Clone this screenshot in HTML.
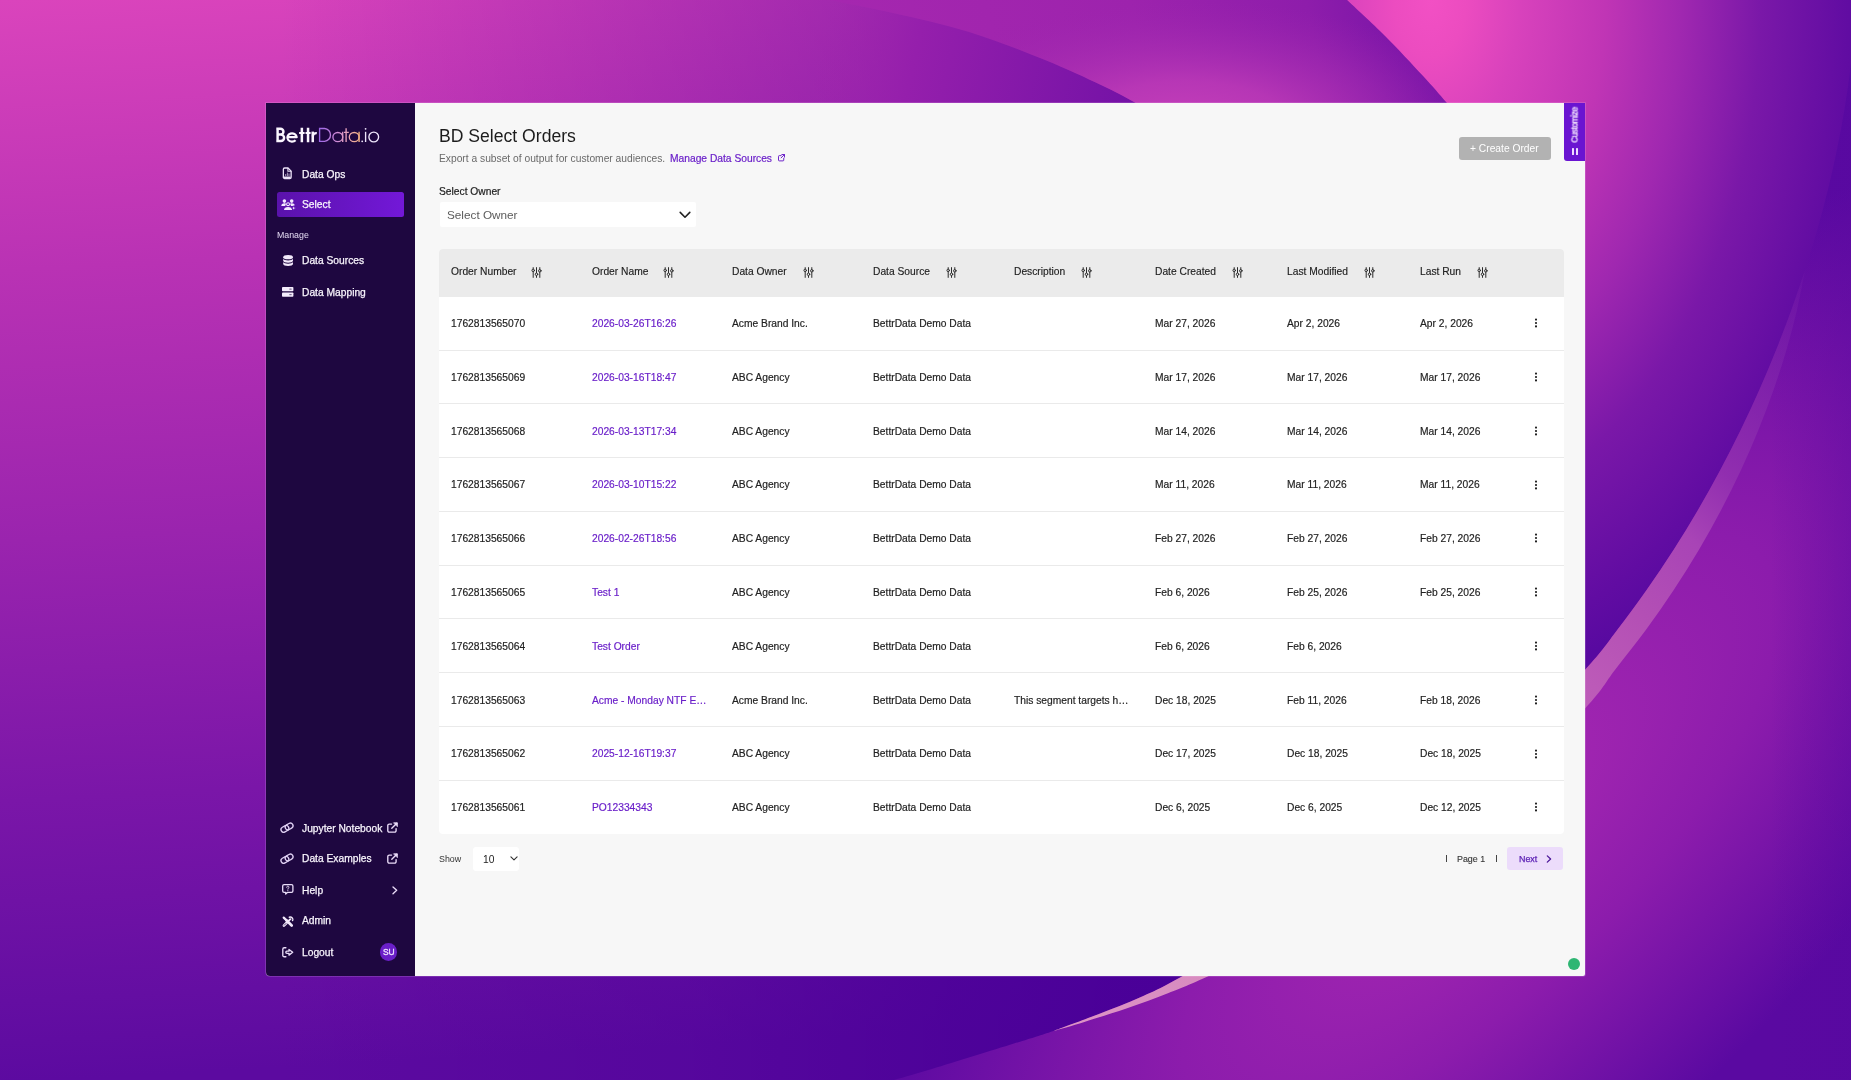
<!DOCTYPE html>
<html><head><meta charset="utf-8"><title>BD Select Orders</title>
<style>
html,body{margin:0;padding:0}
body{width:1851px;height:1080px;position:relative;overflow:hidden;background:#7a14a8;font-family:"Liberation Sans",sans-serif}
.t{position:absolute;white-space:nowrap;font-family:"Liberation Sans",sans-serif;will-change:transform}
.a{position:absolute}
.nav{-webkit-text-stroke:0.25px #fff}
svg{position:absolute;overflow:visible}
</style></head><body>

<svg width="1851" height="1080" viewBox="0 0 1851 1080" style="left:0;top:0">
<defs>
<linearGradient id="g0" gradientUnits="userSpaceOnUse" x1="0" y1="0" x2="60" y2="1080">
<stop offset="0" stop-color="#da44bc"/><stop offset="0.25" stop-color="#b932b4"/><stop offset="0.5" stop-color="#9a24ae"/><stop offset="0.74" stop-color="#7a16a8"/><stop offset="0.925" stop-color="#640ea2"/><stop offset="1" stop-color="#5c0aa0"/>
</linearGradient>
<linearGradient id="gH" gradientUnits="userSpaceOnUse" x1="280" y1="0" x2="1200" y2="0">
<stop offset="0" stop-color="#4a0098" stop-opacity="0"/><stop offset="0.67" stop-color="#4a0098" stop-opacity="0.4"/><stop offset="0.95" stop-color="#4a0098" stop-opacity="0.8"/><stop offset="1" stop-color="#4a0098" stop-opacity="0.85"/>
</linearGradient>
<linearGradient id="gH2" gradientUnits="userSpaceOnUse" x1="280" y1="0" x2="1200" y2="0">
<stop offset="0" stop-color="#4a0098" stop-opacity="0"/><stop offset="0.45" stop-color="#4a0098" stop-opacity="0.35"/><stop offset="0.73" stop-color="#4a0098" stop-opacity="0.8"/><stop offset="0.9" stop-color="#4a0098" stop-opacity="0.97"/><stop offset="1" stop-color="#4a0098" stop-opacity="1"/>
</linearGradient>
<linearGradient id="gW" gradientUnits="userSpaceOnUse" x1="830" y1="0" x2="1140" y2="70">
<stop offset="0" stop-color="#a226ae" stop-opacity="0"/><stop offset="0.3" stop-color="#951fac" stop-opacity="1"/><stop offset="1" stop-color="#7412a6"/>
</linearGradient>
<linearGradient id="gB" gradientUnits="userSpaceOnUse" x1="850" y1="60" x2="1410" y2="-60">
<stop offset="0" stop-color="#a527af"/><stop offset="0.5" stop-color="#9d23ad"/><stop offset="0.8" stop-color="#8e1dab"/><stop offset="1" stop-color="#7613a7"/>
</linearGradient>
<radialGradient id="gB2" gradientUnits="userSpaceOnUse" cx="0" cy="0" r="1" gradientTransform="translate(1185 125) scale(300 125)">
<stop offset="0" stop-color="#c640ba" stop-opacity="1"/><stop offset="0.35" stop-color="#bc3ab7" stop-opacity="0.85"/><stop offset="0.7" stop-color="#a82eb2" stop-opacity="0.45"/><stop offset="1" stop-color="#9a24ae" stop-opacity="0"/>
</radialGradient>
<radialGradient id="gC" gradientUnits="userSpaceOnUse" cx="0" cy="0" r="1" gradientTransform="translate(1430 0) scale(450 700)">
<stop offset="0" stop-color="#f250c4"/><stop offset="0.08" stop-color="#ec4cc0"/><stop offset="0.2" stop-color="#d842bc"/><stop offset="0.39" stop-color="#c035b5"/><stop offset="0.557" stop-color="#a028b0"/><stop offset="0.734" stop-color="#7a18a8"/><stop offset="0.93" stop-color="#610ca2"/><stop offset="1" stop-color="#5809a0"/>
</radialGradient>
<radialGradient id="gD" gradientUnits="userSpaceOnUse" cx="0" cy="0" r="1" gradientTransform="translate(1480 830) rotate(-45) scale(870 340)">
<stop offset="0" stop-color="#a929b2"/><stop offset="0.45" stop-color="#8c1cac"/><stop offset="1" stop-color="#5a09a1"/>
</radialGradient>
<linearGradient id="gR" gradientUnits="userSpaceOnUse" x1="1770" y1="0" x2="1851" y2="0">
<stop offset="0" stop-color="#5608a0" stop-opacity="0"/><stop offset="1" stop-color="#5608a0" stop-opacity="0.35"/>
</linearGradient>
<linearGradient id="gS" gradientUnits="userSpaceOnUse" x1="1851" y1="150" x2="1100" y2="1020">
<stop offset="0.08" stop-color="#7a22aa" stop-opacity="0"/><stop offset="0.155" stop-color="#7c24aa" stop-opacity="0.5"/><stop offset="0.284" stop-color="#9230b0" stop-opacity="0.9"/><stop offset="0.347" stop-color="#a844b6"/><stop offset="0.43" stop-color="#b450b5"/><stop offset="0.5" stop-color="#bc5ab8"/><stop offset="0.92" stop-color="#d88cc0"/><stop offset="1" stop-color="#dc92c4"/>
</linearGradient>
</defs>
<rect width="1851" height="1080" fill="url(#g0)"/>
<rect width="1851" height="600" fill="url(#gH)"/>
<rect y="600" width="1851" height="480" fill="url(#gH2)"/>
<path d="M829,0 C839.7,2.2 869.7,7.7 893.0,13.0 C916.3,18.3 943.7,24.2 969.0,32.0 C994.3,39.8 1023.0,51.2 1045.0,60.0 C1067.0,68.8 1086.2,78.0 1101.0,85.0 C1115.8,92.0 1124.2,96.5 1134.0,102.0 C1143.8,107.5 1155.7,115.3 1160.0,118.0 L1160,140 L700,140 L700,0 Z" fill="url(#gW)"/>
<path d="M829,0 C839.7,2.2 869.7,7.7 893.0,13.0 C916.3,18.3 943.7,24.2 969.0,32.0 C994.3,39.8 1023.0,51.2 1045.0,60.0 C1067.0,68.8 1086.2,78.0 1101.0,85.0 C1115.8,92.0 1124.2,96.5 1134.0,102.0 C1143.8,107.5 1155.7,115.3 1160.0,118.0 L1462,121 C1459.3,117.8 1452.5,109.5 1446.0,102.0 C1439.5,94.5 1433.2,87.0 1423.0,76.0 C1412.8,65.0 1397.7,48.7 1385.0,36.0 C1372.3,23.3 1353.3,6.0 1347.0,0.0 Z" fill="url(#gB)"/>
<path d="M829,0 C839.7,2.2 869.7,7.7 893.0,13.0 C916.3,18.3 943.7,24.2 969.0,32.0 C994.3,39.8 1023.0,51.2 1045.0,60.0 C1067.0,68.8 1086.2,78.0 1101.0,85.0 C1115.8,92.0 1124.2,96.5 1134.0,102.0 C1143.8,107.5 1155.7,115.3 1160.0,118.0 L1462,121 C1459.3,117.8 1452.5,109.5 1446.0,102.0 C1439.5,94.5 1433.2,87.0 1423.0,76.0 C1412.8,65.0 1397.7,48.7 1385.0,36.0 C1372.3,23.3 1353.3,6.0 1347.0,0.0 Z" fill="url(#gB2)"/>
<path d="M1347,0 C1353.3,6.0 1372.3,23.3 1385.0,36.0 C1397.7,48.7 1412.8,65.0 1423.0,76.0 C1433.2,87.0 1439.5,94.5 1446.0,102.0 C1452.5,109.5 1459.3,117.8 1462.0,121.0 L1462,1080 L1853,1080 L1853,0 Z" fill="url(#gC)"/>
<path d="M1854.1,30 C1853.4,36.7 1851.8,56.7 1850.2,70.0 C1848.6,83.3 1846.6,96.7 1844.4,110.0 C1842.2,123.3 1839.7,136.7 1836.9,150.0 C1834.2,163.3 1831.2,176.7 1827.9,190.0 C1824.6,203.3 1821.0,216.7 1817.2,230.0 C1813.4,243.3 1809.4,256.7 1805.1,270.0 C1800.8,283.3 1796.2,296.7 1791.4,310.0 C1786.6,323.3 1781.4,336.7 1776.1,350.0 C1770.8,363.3 1765.2,376.7 1759.3,390.0 C1753.4,403.3 1747.2,416.7 1740.7,430.0 C1734.2,443.3 1727.4,456.7 1720.3,470.0 C1713.2,483.3 1705.8,496.7 1698.0,510.0 C1690.2,523.3 1682.1,536.7 1673.5,550.0 C1664.9,563.3 1656.0,576.7 1646.6,590.0 C1637.2,603.3 1627.5,616.7 1617.2,630.0 C1606.9,643.3 1604.4,648.8 1584.9,670.0 C1565.4,691.2 1530.8,728.2 1500.0,757.0 C1469.2,785.8 1433.3,817.5 1400.0,843.0 C1366.7,868.5 1336.5,887.7 1300.0,910.0 C1263.5,932.3 1207.6,962.5 1181.0,977.0 C1154.4,991.5 1154.2,991.1 1140.4,997.3 C1126.6,1003.5 1112.8,1008.6 1098.3,1014.2 C1083.8,1019.8 1067.5,1026.1 1053.4,1031.0 C1039.4,1035.9 1034.2,1037.3 1014.0,1043.6 C993.8,1049.9 954.3,1062.3 932.0,1069.0 C909.7,1075.7 888.7,1081.5 880.0,1084.0 L1853,1084 Z" fill="url(#gD)"/>
<path d="M1854.1,30 C1853.4,36.7 1851.8,56.7 1850.2,70.0 C1848.6,83.3 1846.6,96.7 1844.4,110.0 C1842.2,123.3 1839.7,136.7 1836.9,150.0 C1834.2,163.3 1831.2,176.7 1827.9,190.0 C1824.6,203.3 1821.0,216.7 1817.2,230.0 C1813.4,243.3 1809.4,256.7 1805.1,270.0 C1800.8,283.3 1796.2,296.7 1791.4,310.0 C1786.6,323.3 1781.4,336.7 1776.1,350.0 C1770.8,363.3 1765.2,376.7 1759.3,390.0 C1753.4,403.3 1747.2,416.7 1740.7,430.0 C1734.2,443.3 1727.4,456.7 1720.3,470.0 C1713.2,483.3 1705.8,496.7 1698.0,510.0 C1690.2,523.3 1682.1,536.7 1673.5,550.0 C1664.9,563.3 1656.0,576.7 1646.6,590.0 C1637.2,603.3 1627.5,616.7 1617.2,630.0 C1606.9,643.3 1604.4,648.8 1584.9,670.0 C1565.4,691.2 1530.8,728.2 1500.0,757.0 C1469.2,785.8 1433.3,817.5 1400.0,843.0 C1366.7,868.5 1336.5,887.7 1300.0,910.0 C1263.5,932.3 1207.6,962.5 1181.0,977.0 C1154.4,991.5 1154.2,991.1 1140.4,997.3 C1126.6,1003.5 1112.8,1008.6 1098.3,1014.2 C1083.8,1019.8 1067.5,1026.1 1053.4,1031.0 C1039.4,1035.9 1034.2,1037.3 1014.0,1043.6 C993.8,1049.9 954.3,1062.3 932.0,1069.0 C909.7,1075.7 888.7,1081.5 880.0,1084.0 L1853,1084 Z" fill="url(#gR)"/>
<path d="M1805.1,270 C1802.8,276.7 1796.2,296.7 1791.4,310.0 C1786.6,323.3 1781.4,336.7 1776.1,350.0 C1770.8,363.3 1765.2,376.7 1759.3,390.0 C1753.4,403.3 1747.2,416.7 1740.7,430.0 C1734.2,443.3 1727.4,456.7 1720.3,470.0 C1713.2,483.3 1705.8,496.7 1698.0,510.0 C1690.2,523.3 1682.1,536.7 1673.5,550.0 C1664.9,563.3 1656.0,576.7 1646.6,590.0 C1637.2,603.3 1627.5,616.7 1617.2,630.0 C1606.9,643.3 1604.4,648.8 1584.9,670.0 C1565.4,691.2 1530.8,728.2 1500.0,757.0 C1469.2,785.8 1433.3,817.5 1400.0,843.0 C1366.7,868.5 1336.5,887.7 1300.0,910.0 C1263.5,932.3 1207.6,962.5 1181.0,977.0 C1154.4,991.5 1154.2,991.1 1140.4,997.3 C1126.6,1003.5 1112.8,1008.6 1098.3,1014.2 C1083.8,1019.8 1060.9,1028.2 1053.4,1031.0 C1058.6,1029.5 1072.1,1025.7 1084.3,1021.9 C1096.5,1018.1 1112.4,1013.3 1126.4,1008.5 C1140.4,1003.7 1155.2,998.2 1168.5,993.0 C1181.8,987.8 1184.6,987.0 1206.5,977.0 C1228.4,967.0 1267.8,950.3 1300.0,933.0 C1332.2,915.7 1366.7,896.0 1400.0,873.0 C1433.3,850.0 1469.2,822.4 1500.0,795.0 C1530.8,767.6 1565.8,729.3 1585.0,708.5 C1604.2,687.7 1604.8,683.1 1614.9,670.0 C1625.0,656.9 1636.0,643.3 1645.8,630.0 C1655.6,616.7 1664.9,603.3 1673.7,590.0 C1682.5,576.7 1690.9,563.3 1698.8,550.0 C1706.7,536.7 1714.1,523.3 1721.1,510.0 C1728.1,496.7 1734.8,483.3 1741.0,470.0 C1747.2,456.7 1753.0,443.3 1758.4,430.0 C1763.8,416.7 1768.8,403.3 1773.5,390.0 C1778.2,376.7 1782.5,363.3 1786.4,350.0 C1790.3,336.7 1793.9,323.3 1797.0,310.0 C1800.1,296.7 1803.8,276.7 1805.1,270.0 Z" fill="url(#gS)"/>
</svg>
<div class="a" style="left:266px;top:103px;width:1318.5px;height:873px;background:#f7f7f7;border-radius:0 0 2px 4px;overflow:hidden;box-shadow:0 0 0 0.8px rgba(255,225,255,0.22)">
<div class="a" style="left:0;top:0;width:149px;height:873px;background:#1e0740"></div>
</div>
<svg style="left:270px;top:120px" width="120" height="30" viewBox="270 120 120 30" fill="none">
<defs><linearGradient id="lg" gradientUnits="userSpaceOnUse" x1="319" y1="0" x2="360" y2="0"><stop offset="0" stop-color="#9a66e6"/><stop offset="0.45" stop-color="#d08cd6"/><stop offset="0.72" stop-color="#e9a6b4"/><stop offset="1" stop-color="#f3b280"/></linearGradient></defs>
<g stroke="#fbf6ff" stroke-width="2.7" stroke-linejoin="round">
<path d="M277.6 128.7V141M276.3 128.7H280.5a2.95 2.95 0 0 1 0 5.9H277.6M277.6 134.6H280.9a3.2 3.2 0 0 1 0 6.400H276.3" stroke-width="2.45"/>
<path d="M288.300 137.150H296.700A4.700 4.150 0 1 0 295.600 140.200" stroke-width="2.150"/>
<path d="M301.85 127.7V142.2M308.05 127.7V142.2" stroke-width="2.5"/>
<path d="M299.1 133H304.6M305.5 133H310.6" stroke-width="2.2"/>
<path d="M312.75 131.6V142.2" stroke-width="2.5"/>
<path d="M312.9 136.2c0-2 1.500-3.300 3.900-3.100" stroke-width="2.4"/>
</g>
<g stroke="url(#lg)" stroke-width="1.35">
<path d="M319.6 127.85V142M318.95 128.5H324.6a6.45 6.45 0 0 1 0 12.850H318.95"/>
<ellipse cx="337.8" cy="137" rx="4.9" ry="4.550"/><path d="M342.7 131.800V142"/>
<path d="M346.1 128.300V142M344 132.300H348.800"/>
<ellipse cx="354.200" cy="137" rx="4.900" ry="4.550"/><path d="M359.100 131.800V142"/>
</g>
<g stroke="#eee6fb" stroke-width="1.350">
<path d="M365.600 131.800V142"/><circle cx="373.750" cy="137" r="4.850"/>
</g>
<circle cx="362.200" cy="141.300" r="0.900" fill="#eee6fb"/><circle cx="365.600" cy="128.800" r="0.900" fill="#eee6fb"/>
</svg>

<div class="a" style="left:276.5px;top:192px;width:127px;height:25px;border-radius:2.5px;background:linear-gradient(90deg,#5a12ab,#7318d8)"></div>
<div class="t nav" style="left:301.5px;top:169px;font-size:10.25px;line-height:12.3px;color:#f3ecfb;font-weight:400;">Data Ops</div>
<div class="t nav" style="left:301.5px;top:199px;font-size:10.25px;line-height:12.3px;color:#f3ecfb;font-weight:400;">Select</div>
<div class="t nav" style="left:301.5px;top:255px;font-size:10.25px;line-height:12.3px;color:#f3ecfb;font-weight:400;">Data Sources</div>
<div class="t nav" style="left:301.5px;top:287px;font-size:10.25px;line-height:12.3px;color:#f3ecfb;font-weight:400;">Data Mapping</div>
<div class="t nav" style="left:301.5px;top:823px;font-size:10.25px;line-height:12.3px;color:#f3ecfb;font-weight:400;">Jupyter Notebook</div>
<div class="t nav" style="left:301.5px;top:853px;font-size:10.25px;line-height:12.3px;color:#f3ecfb;font-weight:400;">Data Examples</div>
<div class="t nav" style="left:301.5px;top:885px;font-size:10.25px;line-height:12.3px;color:#f3ecfb;font-weight:400;">Help</div>
<div class="t nav" style="left:301.5px;top:915px;font-size:10.25px;line-height:12.3px;color:#f3ecfb;font-weight:400;">Admin</div>
<div class="t nav" style="left:301.5px;top:947px;font-size:10.25px;line-height:12.3px;color:#f3ecfb;font-weight:400;">Logout</div>
<div class="t " style="left:276.5px;top:230px;font-size:8.8px;line-height:10.56px;color:#e4daf2;font-weight:400;">Manage</div>
<!-- Data Ops: file with chart -->
<svg style="left:282.4px;top:167.2px" width="10.4" height="12.4" viewBox="0 0 10.4 12.4" fill="none" stroke="#ece2f8" stroke-width="1.3" stroke-linejoin="round" stroke-linecap="round">
<path d="M1.35 2.3a1.3 1.3 0 0 1 1.3-1.300h3.400l3.100 3.100v6.100a1.300 1.300 0 0 1-1.300 1.300H2.650a1.300 1.300 0 0 1-1.300-1.300z"/>
<path d="M5.900 1.300v3h3" stroke-width="1.100"/>
<path d="M3.700 8.600v-1.200M5.400 8.600v-2.600M7 8.600v-1.700" stroke-width="0.800" opacity="0.850"/>
<path d="M2.300 10.200h5.800" stroke-width="1.500"/>
</svg>
<!-- Select: users group with sparkle -->
<svg style="left:280.5px;top:198.600px" width="14.200" height="12" viewBox="0 0 14.200 12" fill="#f3e9ff" stroke="none">
<circle cx="3.400" cy="2.100" r="1.800"/>
<circle cx="10.700" cy="2.100" r="1.800"/>
<path d="M0.300 7c0-1.800 1.300-2.800 3.100-2.800 0.800 0 1.500 0.200 2 0.600-0.700 0.500-1.100 1.300-1.200 2.200z"/>
<path d="M13.800 6.300c-0.200-1.300-1.400-2.100-3-2.100-0.800 0-1.500 0.200-2 0.600 0.700 0.500 1.100 1.300 1.200 2.200h1.500z"/>
<circle cx="7.050" cy="5.200" r="1.450" fill="none" stroke="#f3e9ff" stroke-width="1.050"/>
<path d="M3 11.100c0-2 1.600-3.200 4.050-3.200s4.050 1.200 4.050 3.200z"/>
<path d="M12.700 7l0.650 1.450 1.450 0.650-1.450 0.650-0.650 1.450-0.650-1.450-1.450-0.650 1.450-0.650z" stroke="#5f14b4" stroke-width="0.600"/>
</svg>
<!-- Data Sources: database -->
<svg style="left:282.6px;top:255px" width="10.2" height="11.2" viewBox="0 0 10.2 11.2" fill="#f1e8fa">
<ellipse cx="5.1" cy="2.2" rx="4.9" ry="2.1"/>
<path d="M0.2 3.7c0.6 1.1 2.6 1.7 4.9 1.7s4.300-0.600 4.900-1.700v2.100c0 1.100-2.200 2.000-4.900 2.000s-4.900-0.900-4.900-2.000z"/>
<path d="M0.2 7.0c0.6 1.1 2.6 1.7 4.9 1.7s4.300-0.600 4.900-1.700v2.000c0 1.100-2.200 2.000-4.900 2.000s-4.900-0.900-4.900-2.000z"/>
</svg>
<!-- Data Mapping: server -->
<svg style="left:281.8px;top:286.5px" width="11.4" height="9.8" viewBox="0 0 11.4 9.8" fill="#f4ecfc">
<rect x="0" y="0" width="11.4" height="4.3" rx="0.8"/>
<rect x="0" y="5.5" width="11.4" height="4.3" rx="0.8"/>
<rect x="7.2" y="1.55" width="2.6" height="1.1" rx="0.55" fill="#1e0740" opacity="0.55"/>
<rect x="7.2" y="7.05" width="2.6" height="1.1" rx="0.55" fill="#1e0740" opacity="0.55"/>
</svg>
<!-- link icons -->
<svg style="left:280.4px;top:822.3px" width="14" height="11.4" viewBox="0 0 14 11.4" fill="none" stroke="#e0d0f4" stroke-width="1.3">
<rect x="-4.1" y="-2.7" width="8.2" height="5.4" rx="2.7" transform="translate(4.9 6.9) rotate(-30)"/>
<rect x="-4.1" y="-2.7" width="8.2" height="5.4" rx="2.7" transform="translate(9.1 4.5) rotate(-30)"/>
</svg>
<svg style="left:280.4px;top:853.3px" width="14" height="11.4" viewBox="0 0 14 11.4" fill="none" stroke="#e0d0f4" stroke-width="1.3">
<rect x="-4.1" y="-2.7" width="8.2" height="5.4" rx="2.7" transform="translate(4.9 6.9) rotate(-30)"/>
<rect x="-4.1" y="-2.7" width="8.2" height="5.4" rx="2.7" transform="translate(9.1 4.5) rotate(-30)"/>
</svg>
<!-- external link -->
<svg style="left:386.6px;top:822.2px" width="11.2" height="11" viewBox="0 0 11.200 11" fill="none" stroke="#eadcf8" stroke-width="1.35" stroke-linecap="round" stroke-linejoin="round">
<path d="M4.6 2.1H2.300a1.5 1.500 0 0 0-1.500 1.500v5.100a1.500 1.500 0 0 0 1.500 1.500h5.300a1.500 1.500 0 0 0 1.500-1.500V6.600"/>
<path d="M4.800 6.300L9.800 1.200"/><path d="M6.900 0.800h3.500v3.500z" fill="#eadcf8" stroke-width="0.8"/>
</svg>
<svg style="left:386.6px;top:853.2px" width="11.2" height="11" viewBox="0 0 11.200 11" fill="none" stroke="#eadcf8" stroke-width="1.35" stroke-linecap="round" stroke-linejoin="round">
<path d="M4.6 2.1H2.300a1.5 1.500 0 0 0-1.500 1.500v5.100a1.500 1.500 0 0 0 1.500 1.500h5.300a1.500 1.500 0 0 0 1.500-1.500V6.600"/>
<path d="M4.800 6.300L9.800 1.200"/><path d="M6.900 0.800h3.500v3.500z" fill="#eadcf8" stroke-width="0.8"/>
</svg>
<!-- chevron -->
<svg style="left:391.6px;top:885.8px" width="6" height="8.600" viewBox="0 0 6 8.600" fill="none" stroke="#eadcf8" stroke-width="1.35" stroke-linecap="round" stroke-linejoin="round"><path d="M1 0.900L4.700 4.300L1 7.700"/></svg>
<!-- Help -->
<svg style="left:281.8px;top:884.4px" width="11.600" height="10.800" viewBox="0 0 11.600 10.800" fill="none" stroke="#e9dcf8" stroke-width="1.3" stroke-linejoin="round" stroke-linecap="round">
<path d="M2.100 0.700h7.400a1.400 1.400 0 0 1 1.400 1.400v4.800a1.400 1.400 0 0 1-1.400 1.400H5.600L3.700 10.100V8.300H2.100a1.400 1.400 0 0 1-1.400-1.400V2.100a1.400 1.400 0 0 1 1.400-1.400z"/>
<path d="M4.700 3.300a1.150 1.100 0 1 1 1.700 0.950c-0.400 0.250-0.550 0.450-0.550 0.900" stroke-width="0.950"/><circle cx="5.850" cy="6.500" r="0.550" fill="#e6d8f6" stroke="none"/>
</svg>
<!-- Admin: crossed tools -->
<svg style="left:281.8px;top:915.6px" width="11.6" height="11.2" viewBox="0 0 11.6 11.2" fill="none" stroke="#f3eafc" stroke-linecap="round">
<path d="M1.7 1.6L4.4 4.3" stroke-width="2.2"/>
<path d="M4.4 4.3L9.700 9.500" stroke-width="2.700"/>
<path d="M8.900 2.600L6.300 5.200" stroke-width="1.900"/>
<path d="M4.700 6.800L1.900 9.600" stroke-width="2.600"/>
<path d="M7.300 1.200a2.500 2.500 0 0 1 3.300 3.300" stroke-width="1.500"/>
<path d="M2.300 9.200l1.700-1.700" stroke="#1e0740" stroke-width="0.800"/>
<path d="M8.800 2.200l1 1" stroke="#1e0740" stroke-width="0.900"/>
</svg>
<!-- Logout -->
<svg style="left:281.800px;top:946.800px" width="11.600" height="10.600" viewBox="0 0 11.600 10.600" fill="none" stroke="#e9dcf8" stroke-width="1.35" stroke-linecap="round" stroke-linejoin="round">
<path d="M3.900 0.800H2.200a1.400 1.400 0 0 0-1.400 1.400v6.200a1.400 1.400 0 0 0 1.400 1.400h1.700"/>
<path d="M4.900 4.200h2.100v-1.700l3.700 2.800l-3.700 2.800v-1.700h-2.100a1.100 1.100 0 0 1 0-2.200z"/>
</svg>

<div class="a" style="left:379.7px;top:943.2px;width:17.6px;height:17.6px;border-radius:50%;background:#6a1fc8"></div>
<div class="t " style="left:382.9px;top:947px;font-size:8.4px;line-height:10.08px;color:#f1e6ff;font-weight:400;-webkit-text-stroke:0.3px #f1e6ff">SU</div>
<div class="t " style="left:438.6px;top:126px;font-size:17.6px;line-height:21.12px;color:#1c1c1c;font-weight:400;">BD Select Orders</div>
<div class="t " style="left:438.8px;top:153px;font-size:10.25px;line-height:12.3px;color:#6a6a6a;font-weight:400;">Export a subset of output for customer audiences.</div>
<div class="t " style="left:669.5px;top:153px;font-size:10.25px;line-height:12.3px;color:#6a1fc9;font-weight:400;-webkit-text-stroke:0.2px #6a1fc9">Manage Data Sources</div>
<svg style="left:777.2px;top:153.2px" width="9" height="9" viewBox="0 0 24 24" fill="none" stroke="#6a1fc9" stroke-width="2.6" stroke-linecap="round" stroke-linejoin="round"><path d="M13 4h7v7M20 4l-9 9M18 14v5a2 2 0 0 1-2 2H6a2 2 0 0 1-2-2V9a2 2 0 0 1 2-2h5"/></svg>
<div class="t " style="left:438.8px;top:186px;font-size:10.25px;line-height:12.3px;color:#222;font-weight:400;-webkit-text-stroke:0.2px #222">Select Owner</div>
<div class="a" style="left:439.5px;top:202px;width:256.4px;height:24.5px;background:#fff;border-radius:2px"></div>
<div class="t " style="left:446.8px;top:208px;font-size:11.75px;line-height:14.1px;color:#5c5c5c;font-weight:400;">Select Owner</div>
<svg style="left:679px;top:211px" width="12" height="8" viewBox="0 0 12 8" fill="none" stroke="#222" stroke-width="1.6" stroke-linecap="round" stroke-linejoin="round"><path d="M1.2 1.4L6 6.2l4.8-4.8"/></svg>
<div class="a" style="left:1458.5px;top:136.5px;width:92.5px;height:23px;background:#b2b2b2;border-radius:3px"></div>
<div class="t " style="left:1470.2px;top:143px;font-size:10.25px;line-height:12.3px;color:#fff;font-weight:400;">+ Create Order</div>
<div class="a" style="left:1563.5px;top:103px;width:21px;height:58px;background:#6a14d1;border-radius:0 0 0 3px"></div>
<div class="t" style="left:1574.8px;top:125.2px;width:0;height:0;font-size:8.3px;color:#f6e8ff"><div style="position:absolute;transform:translate(-50%,-50%) rotate(-90deg);white-space:nowrap;line-height:9px;letter-spacing:-0.42px;-webkit-text-stroke:0.3px #f6e8ff">Customize</div></div>
<div class="a" style="left:1572.1px;top:148px;width:1.9px;height:7px;background:#efdcff;border-radius:0.6px"></div>
<div class="a" style="left:1575.9px;top:148px;width:1.9px;height:7px;background:#efdcff;border-radius:0.6px"></div>
<div class="a" style="left:439px;top:249px;width:1124.5px;height:585px;background:#fff;border-radius:4px;overflow:hidden">
<div class="a" style="left:0;top:0;width:1124.5px;height:47.5px;background:#ebebeb"></div>
<div class="a" style="left:0;top:101.00px;width:1124.5px;height:1px;background:#eaeaea"></div>
<div class="a" style="left:0;top:154.00px;width:1124.5px;height:1px;background:#eaeaea"></div>
<div class="a" style="left:0;top:208.00px;width:1124.5px;height:1px;background:#eaeaea"></div>
<div class="a" style="left:0;top:262.00px;width:1124.5px;height:1px;background:#eaeaea"></div>
<div class="a" style="left:0;top:316.00px;width:1124.5px;height:1px;background:#eaeaea"></div>
<div class="a" style="left:0;top:369.00px;width:1124.5px;height:1px;background:#eaeaea"></div>
<div class="a" style="left:0;top:423.00px;width:1124.5px;height:1px;background:#eaeaea"></div>
<div class="a" style="left:0;top:477.00px;width:1124.5px;height:1px;background:#eaeaea"></div>
<div class="a" style="left:0;top:531.00px;width:1124.5px;height:1px;background:#eaeaea"></div>
</div>
<div class="t " style="left:450.6px;top:266px;font-size:10.25px;line-height:12.3px;color:#222;font-weight:400;-webkit-text-stroke:0.15px #222">Order Number</div>
<svg style="left:531.4px;top:266.8px" width="11" height="11" viewBox="0 0 11 11" fill="none" stroke="#2a2a2a" stroke-width="1" stroke-linecap="round"><path d="M2.2 0.6v1.4M2.2 4.8v5.6M5.5 0.6v5M5.5 9v1.4M8.8 0.6v1.8M8.8 5.2v5.2"/><circle cx="2.2" cy="3.4" r="1.25"/><circle cx="5.5" cy="7.3" r="1.25"/><circle cx="8.8" cy="3.8" r="1.25"/></svg>
<div class="t " style="left:591.5px;top:266px;font-size:10.25px;line-height:12.3px;color:#222;font-weight:400;-webkit-text-stroke:0.15px #222">Order Name</div>
<svg style="left:663.4px;top:266.8px" width="11" height="11" viewBox="0 0 11 11" fill="none" stroke="#2a2a2a" stroke-width="1" stroke-linecap="round"><path d="M2.2 0.6v1.4M2.2 4.8v5.6M5.5 0.6v5M5.5 9v1.4M8.8 0.6v1.8M8.8 5.2v5.2"/><circle cx="2.2" cy="3.4" r="1.25"/><circle cx="5.5" cy="7.3" r="1.25"/><circle cx="8.8" cy="3.8" r="1.25"/></svg>
<div class="t " style="left:732.2px;top:266px;font-size:10.25px;line-height:12.3px;color:#222;font-weight:400;-webkit-text-stroke:0.15px #222">Data Owner</div>
<svg style="left:802.8px;top:266.8px" width="11" height="11" viewBox="0 0 11 11" fill="none" stroke="#2a2a2a" stroke-width="1" stroke-linecap="round"><path d="M2.2 0.6v1.4M2.2 4.8v5.6M5.5 0.6v5M5.5 9v1.4M8.8 0.6v1.8M8.8 5.2v5.2"/><circle cx="2.2" cy="3.4" r="1.25"/><circle cx="5.5" cy="7.3" r="1.25"/><circle cx="8.8" cy="3.8" r="1.25"/></svg>
<div class="t " style="left:873px;top:266px;font-size:10.25px;line-height:12.3px;color:#222;font-weight:400;-webkit-text-stroke:0.15px #222">Data Source</div>
<svg style="left:945.9px;top:266.8px" width="11" height="11" viewBox="0 0 11 11" fill="none" stroke="#2a2a2a" stroke-width="1" stroke-linecap="round"><path d="M2.2 0.6v1.4M2.2 4.8v5.6M5.5 0.6v5M5.5 9v1.4M8.8 0.6v1.8M8.8 5.2v5.2"/><circle cx="2.2" cy="3.4" r="1.25"/><circle cx="5.5" cy="7.3" r="1.25"/><circle cx="8.8" cy="3.8" r="1.25"/></svg>
<div class="t " style="left:1013.8px;top:266px;font-size:10.25px;line-height:12.3px;color:#222;font-weight:400;-webkit-text-stroke:0.15px #222">Description</div>
<svg style="left:1081.0px;top:266.8px" width="11" height="11" viewBox="0 0 11 11" fill="none" stroke="#2a2a2a" stroke-width="1" stroke-linecap="round"><path d="M2.2 0.6v1.4M2.2 4.8v5.6M5.5 0.6v5M5.5 9v1.4M8.8 0.6v1.8M8.8 5.2v5.2"/><circle cx="2.2" cy="3.4" r="1.25"/><circle cx="5.5" cy="7.3" r="1.25"/><circle cx="8.8" cy="3.8" r="1.25"/></svg>
<div class="t " style="left:1154.6px;top:266px;font-size:10.25px;line-height:12.3px;color:#222;font-weight:400;-webkit-text-stroke:0.15px #222">Date Created</div>
<svg style="left:1231.5px;top:266.8px" width="11" height="11" viewBox="0 0 11 11" fill="none" stroke="#2a2a2a" stroke-width="1" stroke-linecap="round"><path d="M2.2 0.6v1.4M2.2 4.8v5.6M5.5 0.6v5M5.5 9v1.4M8.8 0.6v1.8M8.8 5.2v5.2"/><circle cx="2.2" cy="3.4" r="1.25"/><circle cx="5.5" cy="7.3" r="1.25"/><circle cx="8.8" cy="3.8" r="1.25"/></svg>
<div class="t " style="left:1287.3px;top:266px;font-size:10.25px;line-height:12.3px;color:#222;font-weight:400;-webkit-text-stroke:0.15px #222">Last Modified</div>
<svg style="left:1364.2px;top:266.8px" width="11" height="11" viewBox="0 0 11 11" fill="none" stroke="#2a2a2a" stroke-width="1" stroke-linecap="round"><path d="M2.2 0.6v1.4M2.2 4.8v5.6M5.5 0.6v5M5.5 9v1.4M8.8 0.6v1.8M8.8 5.2v5.2"/><circle cx="2.2" cy="3.4" r="1.25"/><circle cx="5.5" cy="7.3" r="1.25"/><circle cx="8.8" cy="3.8" r="1.25"/></svg>
<div class="t " style="left:1420.2px;top:266px;font-size:10.25px;line-height:12.3px;color:#222;font-weight:400;-webkit-text-stroke:0.15px #222">Last Run</div>
<svg style="left:1476.6px;top:266.8px" width="11" height="11" viewBox="0 0 11 11" fill="none" stroke="#2a2a2a" stroke-width="1" stroke-linecap="round"><path d="M2.2 0.6v1.4M2.2 4.8v5.6M5.5 0.6v5M5.5 9v1.4M8.8 0.6v1.8M8.8 5.2v5.2"/><circle cx="2.2" cy="3.4" r="1.25"/><circle cx="5.5" cy="7.3" r="1.25"/><circle cx="8.8" cy="3.8" r="1.25"/></svg>
<div class="t " style="left:450.6px;top:318px;font-size:10.25px;line-height:12.3px;color:#222;font-weight:400;-webkit-text-stroke:0.18px #222">1762813565070</div>
<div class="t " style="left:591.5px;top:318px;font-size:10.25px;line-height:12.3px;color:#6a1fc9;font-weight:400;-webkit-text-stroke:0.18px #6a1fc9">2026-03-26T16:26</div>
<div class="t " style="left:732.2px;top:318px;font-size:10.25px;line-height:12.3px;color:#222;font-weight:400;-webkit-text-stroke:0.18px #222">Acme Brand Inc.</div>
<div class="t " style="left:873px;top:318px;font-size:10.25px;line-height:12.3px;color:#222;font-weight:400;-webkit-text-stroke:0.18px #222">BettrData Demo Data</div>
<div class="t " style="left:1154.6px;top:318px;font-size:10.25px;line-height:12.3px;color:#222;font-weight:400;-webkit-text-stroke:0.18px #222">Mar 27, 2026</div>
<div class="t " style="left:1287.3px;top:318px;font-size:10.25px;line-height:12.3px;color:#222;font-weight:400;-webkit-text-stroke:0.18px #222">Apr 2, 2026</div>
<div class="t " style="left:1420.2px;top:318px;font-size:10.25px;line-height:12.3px;color:#222;font-weight:400;-webkit-text-stroke:0.18px #222">Apr 2, 2026</div>
<svg style="left:1534.2px;top:318.10px" width="4" height="10" viewBox="0 0 4 10" fill="#1c1c1c"><circle cx="2" cy="1.55" r="1.08"/><circle cx="2" cy="5" r="1.08"/><circle cx="2" cy="8.45" r="1.08"/></svg>
<div class="t " style="left:450.6px;top:372px;font-size:10.25px;line-height:12.3px;color:#222;font-weight:400;-webkit-text-stroke:0.18px #222">1762813565069</div>
<div class="t " style="left:591.5px;top:372px;font-size:10.25px;line-height:12.3px;color:#6a1fc9;font-weight:400;-webkit-text-stroke:0.18px #6a1fc9">2026-03-16T18:47</div>
<div class="t " style="left:732.2px;top:372px;font-size:10.25px;line-height:12.3px;color:#222;font-weight:400;-webkit-text-stroke:0.18px #222">ABC Agency</div>
<div class="t " style="left:873px;top:372px;font-size:10.25px;line-height:12.3px;color:#222;font-weight:400;-webkit-text-stroke:0.18px #222">BettrData Demo Data</div>
<div class="t " style="left:1154.6px;top:372px;font-size:10.25px;line-height:12.3px;color:#222;font-weight:400;-webkit-text-stroke:0.18px #222">Mar 17, 2026</div>
<div class="t " style="left:1287.3px;top:372px;font-size:10.25px;line-height:12.3px;color:#222;font-weight:400;-webkit-text-stroke:0.18px #222">Mar 17, 2026</div>
<div class="t " style="left:1420.2px;top:372px;font-size:10.25px;line-height:12.3px;color:#222;font-weight:400;-webkit-text-stroke:0.18px #222">Mar 17, 2026</div>
<svg style="left:1534.2px;top:371.90px" width="4" height="10" viewBox="0 0 4 10" fill="#1c1c1c"><circle cx="2" cy="1.55" r="1.08"/><circle cx="2" cy="5" r="1.08"/><circle cx="2" cy="8.45" r="1.08"/></svg>
<div class="t " style="left:450.6px;top:426px;font-size:10.25px;line-height:12.3px;color:#222;font-weight:400;-webkit-text-stroke:0.18px #222">1762813565068</div>
<div class="t " style="left:591.5px;top:426px;font-size:10.25px;line-height:12.3px;color:#6a1fc9;font-weight:400;-webkit-text-stroke:0.18px #6a1fc9">2026-03-13T17:34</div>
<div class="t " style="left:732.2px;top:426px;font-size:10.25px;line-height:12.3px;color:#222;font-weight:400;-webkit-text-stroke:0.18px #222">ABC Agency</div>
<div class="t " style="left:873px;top:426px;font-size:10.25px;line-height:12.3px;color:#222;font-weight:400;-webkit-text-stroke:0.18px #222">BettrData Demo Data</div>
<div class="t " style="left:1154.6px;top:426px;font-size:10.25px;line-height:12.3px;color:#222;font-weight:400;-webkit-text-stroke:0.18px #222">Mar 14, 2026</div>
<div class="t " style="left:1287.3px;top:426px;font-size:10.25px;line-height:12.3px;color:#222;font-weight:400;-webkit-text-stroke:0.18px #222">Mar 14, 2026</div>
<div class="t " style="left:1420.2px;top:426px;font-size:10.25px;line-height:12.3px;color:#222;font-weight:400;-webkit-text-stroke:0.18px #222">Mar 14, 2026</div>
<svg style="left:1534.2px;top:425.70px" width="4" height="10" viewBox="0 0 4 10" fill="#1c1c1c"><circle cx="2" cy="1.55" r="1.08"/><circle cx="2" cy="5" r="1.08"/><circle cx="2" cy="8.45" r="1.08"/></svg>
<div class="t " style="left:450.6px;top:479px;font-size:10.25px;line-height:12.3px;color:#222;font-weight:400;-webkit-text-stroke:0.18px #222">1762813565067</div>
<div class="t " style="left:591.5px;top:479px;font-size:10.25px;line-height:12.3px;color:#6a1fc9;font-weight:400;-webkit-text-stroke:0.18px #6a1fc9">2026-03-10T15:22</div>
<div class="t " style="left:732.2px;top:479px;font-size:10.25px;line-height:12.3px;color:#222;font-weight:400;-webkit-text-stroke:0.18px #222">ABC Agency</div>
<div class="t " style="left:873px;top:479px;font-size:10.25px;line-height:12.3px;color:#222;font-weight:400;-webkit-text-stroke:0.18px #222">BettrData Demo Data</div>
<div class="t " style="left:1154.6px;top:479px;font-size:10.25px;line-height:12.3px;color:#222;font-weight:400;-webkit-text-stroke:0.18px #222">Mar 11, 2026</div>
<div class="t " style="left:1287.3px;top:479px;font-size:10.25px;line-height:12.3px;color:#222;font-weight:400;-webkit-text-stroke:0.18px #222">Mar 11, 2026</div>
<div class="t " style="left:1420.2px;top:479px;font-size:10.25px;line-height:12.3px;color:#222;font-weight:400;-webkit-text-stroke:0.18px #222">Mar 11, 2026</div>
<svg style="left:1534.2px;top:479.50px" width="4" height="10" viewBox="0 0 4 10" fill="#1c1c1c"><circle cx="2" cy="1.55" r="1.08"/><circle cx="2" cy="5" r="1.08"/><circle cx="2" cy="8.45" r="1.08"/></svg>
<div class="t " style="left:450.6px;top:533px;font-size:10.25px;line-height:12.3px;color:#222;font-weight:400;-webkit-text-stroke:0.18px #222">1762813565066</div>
<div class="t " style="left:591.5px;top:533px;font-size:10.25px;line-height:12.3px;color:#6a1fc9;font-weight:400;-webkit-text-stroke:0.18px #6a1fc9">2026-02-26T18:56</div>
<div class="t " style="left:732.2px;top:533px;font-size:10.25px;line-height:12.3px;color:#222;font-weight:400;-webkit-text-stroke:0.18px #222">ABC Agency</div>
<div class="t " style="left:873px;top:533px;font-size:10.25px;line-height:12.3px;color:#222;font-weight:400;-webkit-text-stroke:0.18px #222">BettrData Demo Data</div>
<div class="t " style="left:1154.6px;top:533px;font-size:10.25px;line-height:12.3px;color:#222;font-weight:400;-webkit-text-stroke:0.18px #222">Feb 27, 2026</div>
<div class="t " style="left:1287.3px;top:533px;font-size:10.25px;line-height:12.3px;color:#222;font-weight:400;-webkit-text-stroke:0.18px #222">Feb 27, 2026</div>
<div class="t " style="left:1420.2px;top:533px;font-size:10.25px;line-height:12.3px;color:#222;font-weight:400;-webkit-text-stroke:0.18px #222">Feb 27, 2026</div>
<svg style="left:1534.2px;top:533.30px" width="4" height="10" viewBox="0 0 4 10" fill="#1c1c1c"><circle cx="2" cy="1.55" r="1.08"/><circle cx="2" cy="5" r="1.08"/><circle cx="2" cy="8.45" r="1.08"/></svg>
<div class="t " style="left:450.6px;top:587px;font-size:10.25px;line-height:12.3px;color:#222;font-weight:400;-webkit-text-stroke:0.18px #222">1762813565065</div>
<div class="t " style="left:591.5px;top:587px;font-size:10.25px;line-height:12.3px;color:#6a1fc9;font-weight:400;-webkit-text-stroke:0.18px #6a1fc9">Test 1</div>
<div class="t " style="left:732.2px;top:587px;font-size:10.25px;line-height:12.3px;color:#222;font-weight:400;-webkit-text-stroke:0.18px #222">ABC Agency</div>
<div class="t " style="left:873px;top:587px;font-size:10.25px;line-height:12.3px;color:#222;font-weight:400;-webkit-text-stroke:0.18px #222">BettrData Demo Data</div>
<div class="t " style="left:1154.6px;top:587px;font-size:10.25px;line-height:12.3px;color:#222;font-weight:400;-webkit-text-stroke:0.18px #222">Feb 6, 2026</div>
<div class="t " style="left:1287.3px;top:587px;font-size:10.25px;line-height:12.3px;color:#222;font-weight:400;-webkit-text-stroke:0.18px #222">Feb 25, 2026</div>
<div class="t " style="left:1420.2px;top:587px;font-size:10.25px;line-height:12.3px;color:#222;font-weight:400;-webkit-text-stroke:0.18px #222">Feb 25, 2026</div>
<svg style="left:1534.2px;top:587.10px" width="4" height="10" viewBox="0 0 4 10" fill="#1c1c1c"><circle cx="2" cy="1.55" r="1.08"/><circle cx="2" cy="5" r="1.08"/><circle cx="2" cy="8.45" r="1.08"/></svg>
<div class="t " style="left:450.6px;top:641px;font-size:10.25px;line-height:12.3px;color:#222;font-weight:400;-webkit-text-stroke:0.18px #222">1762813565064</div>
<div class="t " style="left:591.5px;top:641px;font-size:10.25px;line-height:12.3px;color:#6a1fc9;font-weight:400;-webkit-text-stroke:0.18px #6a1fc9">Test Order</div>
<div class="t " style="left:732.2px;top:641px;font-size:10.25px;line-height:12.3px;color:#222;font-weight:400;-webkit-text-stroke:0.18px #222">ABC Agency</div>
<div class="t " style="left:873px;top:641px;font-size:10.25px;line-height:12.3px;color:#222;font-weight:400;-webkit-text-stroke:0.18px #222">BettrData Demo Data</div>
<div class="t " style="left:1154.6px;top:641px;font-size:10.25px;line-height:12.3px;color:#222;font-weight:400;-webkit-text-stroke:0.18px #222">Feb 6, 2026</div>
<div class="t " style="left:1287.3px;top:641px;font-size:10.25px;line-height:12.3px;color:#222;font-weight:400;-webkit-text-stroke:0.18px #222">Feb 6, 2026</div>
<svg style="left:1534.2px;top:640.90px" width="4" height="10" viewBox="0 0 4 10" fill="#1c1c1c"><circle cx="2" cy="1.55" r="1.08"/><circle cx="2" cy="5" r="1.08"/><circle cx="2" cy="8.45" r="1.08"/></svg>
<div class="t " style="left:450.6px;top:695px;font-size:10.25px;line-height:12.3px;color:#222;font-weight:400;-webkit-text-stroke:0.18px #222">1762813565063</div>
<div class="t " style="left:591.5px;top:695px;font-size:10.25px;line-height:12.3px;color:#6a1fc9;font-weight:400;-webkit-text-stroke:0.18px #6a1fc9">Acme - Monday NTF E…</div>
<div class="t " style="left:732.2px;top:695px;font-size:10.25px;line-height:12.3px;color:#222;font-weight:400;-webkit-text-stroke:0.18px #222">Acme Brand Inc.</div>
<div class="t " style="left:873px;top:695px;font-size:10.25px;line-height:12.3px;color:#222;font-weight:400;-webkit-text-stroke:0.18px #222">BettrData Demo Data</div>
<div class="t " style="left:1013.8px;top:695px;font-size:10.25px;line-height:12.3px;color:#222;font-weight:400;-webkit-text-stroke:0.18px #222">This segment targets h…</div>
<div class="t " style="left:1154.6px;top:695px;font-size:10.25px;line-height:12.3px;color:#222;font-weight:400;-webkit-text-stroke:0.18px #222">Dec 18, 2025</div>
<div class="t " style="left:1287.3px;top:695px;font-size:10.25px;line-height:12.3px;color:#222;font-weight:400;-webkit-text-stroke:0.18px #222">Feb 11, 2026</div>
<div class="t " style="left:1420.2px;top:695px;font-size:10.25px;line-height:12.3px;color:#222;font-weight:400;-webkit-text-stroke:0.18px #222">Feb 18, 2026</div>
<svg style="left:1534.2px;top:694.70px" width="4" height="10" viewBox="0 0 4 10" fill="#1c1c1c"><circle cx="2" cy="1.55" r="1.08"/><circle cx="2" cy="5" r="1.08"/><circle cx="2" cy="8.45" r="1.08"/></svg>
<div class="t " style="left:450.6px;top:748px;font-size:10.25px;line-height:12.3px;color:#222;font-weight:400;-webkit-text-stroke:0.18px #222">1762813565062</div>
<div class="t " style="left:591.5px;top:748px;font-size:10.25px;line-height:12.3px;color:#6a1fc9;font-weight:400;-webkit-text-stroke:0.18px #6a1fc9">2025-12-16T19:37</div>
<div class="t " style="left:732.2px;top:748px;font-size:10.25px;line-height:12.3px;color:#222;font-weight:400;-webkit-text-stroke:0.18px #222">ABC Agency</div>
<div class="t " style="left:873px;top:748px;font-size:10.25px;line-height:12.3px;color:#222;font-weight:400;-webkit-text-stroke:0.18px #222">BettrData Demo Data</div>
<div class="t " style="left:1154.6px;top:748px;font-size:10.25px;line-height:12.3px;color:#222;font-weight:400;-webkit-text-stroke:0.18px #222">Dec 17, 2025</div>
<div class="t " style="left:1287.3px;top:748px;font-size:10.25px;line-height:12.3px;color:#222;font-weight:400;-webkit-text-stroke:0.18px #222">Dec 18, 2025</div>
<div class="t " style="left:1420.2px;top:748px;font-size:10.25px;line-height:12.3px;color:#222;font-weight:400;-webkit-text-stroke:0.18px #222">Dec 18, 2025</div>
<svg style="left:1534.2px;top:748.50px" width="4" height="10" viewBox="0 0 4 10" fill="#1c1c1c"><circle cx="2" cy="1.55" r="1.08"/><circle cx="2" cy="5" r="1.08"/><circle cx="2" cy="8.45" r="1.08"/></svg>
<div class="t " style="left:450.6px;top:802px;font-size:10.25px;line-height:12.3px;color:#222;font-weight:400;-webkit-text-stroke:0.18px #222">1762813565061</div>
<div class="t " style="left:591.5px;top:802px;font-size:10.25px;line-height:12.3px;color:#6a1fc9;font-weight:400;-webkit-text-stroke:0.18px #6a1fc9">PO12334343</div>
<div class="t " style="left:732.2px;top:802px;font-size:10.25px;line-height:12.3px;color:#222;font-weight:400;-webkit-text-stroke:0.18px #222">ABC Agency</div>
<div class="t " style="left:873px;top:802px;font-size:10.25px;line-height:12.3px;color:#222;font-weight:400;-webkit-text-stroke:0.18px #222">BettrData Demo Data</div>
<div class="t " style="left:1154.6px;top:802px;font-size:10.25px;line-height:12.3px;color:#222;font-weight:400;-webkit-text-stroke:0.18px #222">Dec 6, 2025</div>
<div class="t " style="left:1287.3px;top:802px;font-size:10.25px;line-height:12.3px;color:#222;font-weight:400;-webkit-text-stroke:0.18px #222">Dec 6, 2025</div>
<div class="t " style="left:1420.2px;top:802px;font-size:10.25px;line-height:12.3px;color:#222;font-weight:400;-webkit-text-stroke:0.18px #222">Dec 12, 2025</div>
<svg style="left:1534.2px;top:802.30px" width="4" height="10" viewBox="0 0 4 10" fill="#1c1c1c"><circle cx="2" cy="1.55" r="1.08"/><circle cx="2" cy="5" r="1.08"/><circle cx="2" cy="8.45" r="1.08"/></svg>
<div class="t " style="left:438.6px;top:854px;font-size:8.9px;line-height:10.68px;color:#333;font-weight:400;">Show</div>
<div class="a" style="left:473px;top:847px;width:45.5px;height:24px;background:#fff;border-radius:3px"></div>
<div class="t " style="left:482.8px;top:854px;font-size:10.25px;line-height:12.3px;color:#222;font-weight:400;">10</div>
<svg style="left:509.8px;top:856.3px" width="8" height="5" viewBox="0 0 8 5" fill="none" stroke="#333" stroke-width="1.1" stroke-linecap="round" stroke-linejoin="round"><path d="M0.9 0.8L4 3.9L7.1 0.8"/></svg>
<div class="a" style="left:1446px;top:855px;width:1px;height:7px;background:#444"></div>
<div class="a" style="left:1495.5px;top:855px;width:1px;height:7px;background:#444"></div>
<div class="t " style="left:1457.4px;top:854px;font-size:8.9px;line-height:10.68px;color:#333;font-weight:400;-webkit-text-stroke:0.12px #333">Page 1</div>
<div class="a" style="left:1507px;top:847px;width:56.3px;height:23.3px;background:#ecdcfb;border-radius:3px"></div>
<div class="t " style="left:1518.5px;top:854px;font-size:8.9px;line-height:10.68px;color:#5a1db3;font-weight:400;-webkit-text-stroke:0.25px #5a1db3">Next</div>
<svg style="left:1546px;top:855px" width="6" height="8" viewBox="0 0 6 8" fill="none" stroke="#4c1799" stroke-width="1.3" stroke-linecap="round" stroke-linejoin="round"><path d="M1.3 0.9L4.6 4L1.3 7.1"/></svg>
<div class="a" style="left:1567.6px;top:957.6px;width:12px;height:12px;border-radius:50%;background:#2fb673"></div>
</body></html>
